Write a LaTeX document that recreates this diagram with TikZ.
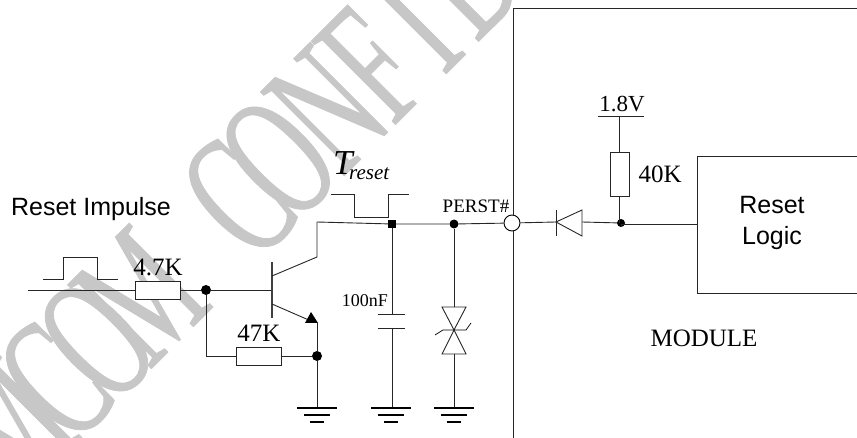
\documentclass[tikz,border=0pt]{standalone}
\usepackage{fontspec}
\setmainfont{Liberation Serif}
\setsansfont{Liberation Sans}
\newfontfamily\wmfont[FakeStretch=0.58,FakeBold=0.4]{Liberation Serif}
\usepackage{tikz}
\usetikzlibrary{positioning}
\newcommand{\fsize}[1]{\fontsize{#1}{#1}\selectfont}
\tikzset{
  wire/.style={line width=0.9pt, black!85},
  resbox/.style={draw, line width=0.9pt, black!85, fill=white, inner sep=0pt, minimum width=45pt, minimum height=18pt},
  junc/.style={circle, fill=black, inner sep=0pt, minimum size=10pt},
  port/.style={circle, draw, line width=0.9pt, fill=white, inner sep=0pt, minimum size=16pt},
  lbl/.style={inner sep=0pt, font=\fsize{25}},
  smalllbl/.style={inner sep=0pt, font=\fsize{18}},
  sanslbl/.style={inner sep=0pt, font=\sffamily\fsize{25}, align=center},
  wmark/.style={inner sep=0pt, text=black!22, rotate=45, anchor=base, font=\wmfont\fsize{181}}
}
\begin{document}
\begin{tikzpicture}[x=1pt, y=-1pt]
    \useasboundingbox (0,0) rectangle (857,438);
    \begin{scope}
      \clip (0,0) rectangle (857,438);
      \foreach \wi/\ltr/\wpos in {b/M/-295, c/C/-231, d/O/-172, e/M/-110, f/C/28, g/O/85, h/N/154, i/F/217, j/I/277, k/D/344} {
        \node [wmark] (wm\wi) at ({260+0.7071*\wpos},{260-0.7071*\wpos}) {\ltr};
      }
    \end{scope}

    \node [sanslbl] (impulse) at (91,209) {Reset Impulse};
    \node [resbox] (r1) at (158,290) {};
    \node [lbl, above=5pt of r1.north, anchor=base] (r1val) {4.7K};
    \node [junc] (j1) at (206,290) {};
    \coordinate (in) at (28,290);
    \coordinate (base) at (272,290);
    \draw [wire] (in) -- (r1);
    \draw [wire] (r1) -- (j1) -- (base);
    \draw [wire] (43,279) -- (63,279) -- (63,257) -- (97,257) -- (97,279) -- (118,279);

    % transistor
    \draw [line width=1.1pt, black!75] (272,262) -- (272,318);
    \coordinate (coll) at (317,222);
    \coordinate (emit) at (317,323);
    \draw [wire] (272,276) -- (317,257) -- (coll);
    \draw [wire] (272,304) -- (311,321);
    \fill (311,312) -- (305,323) -- (318,323) -- cycle;

    \node [resbox] (r2) at (259,356) {};
    \node [lbl, above=5pt of r2.north, anchor=base] (r2val) {47K};
    \node [junc] (j2) at (317,356) {};
    \draw [wire] (j1) |- (r2);
    \draw [wire] (r2) -- (j2);
    \draw [wire] (emit) -- (j2);

    % ground symbols
    \foreach \gx/\gname in {317/ga, 391/gb, 454/gc} {
      \coordinate (\gname) at (\gx,407);
      \draw [line width=1.4pt] (\gx-20,408) -- (\gx+20,408);
      \draw [line width=1.4pt] (\gx-13,415) -- (\gx+13,415);
      \draw [line width=1.4pt] (\gx-7,422) -- (\gx+7,422);
    }
    \draw [wire] (j2) -- (ga);

    \node [junc, rectangle, minimum size=8pt] (j3) at (392,224) {};
    \node [junc, minimum size=9pt] (j4) at (454,224) {};
    \node [port] (perst) at (512,223) {};
    \draw [wire] (coll) -- (j3) -- (j4) -- (perst);

    \node [lbl, font=\itshape\fsize{35}, anchor=base west] (tmain) at (333,175) {T};
    \node [lbl, font=\itshape\fsize{21}, anchor=base west] (tsub) at (349,180) {reset};
    \draw [wire] (331,194) -- (354,194) -- (354,217) -- (388,217) -- (388,194) -- (409,194);
    \node [font=\fsize{19}, inner sep=0pt] (perstlbl) at (476,206) {PERST\#};

    % capacitor
    \coordinate (c1) at (392,314);
    \coordinate (c2) at (392,328);
    \draw [wire] (j3) -- (c1);
    \draw [wire] (378,314) -- (405,314);
    \draw [wire] (378,328) -- (405,328);
    \draw [wire] (c2) -- (392,407);
    \node [smalllbl] (capval) at (365,301) {100nF};

    % tvs
    \coordinate (t1) at (454,307);
    \coordinate (t2) at (454,354);
    \draw [wire] (j4) -- (t1);
    \draw [wire] (442,307) -- (466,307) -- (454,330) -- cycle;
    \draw [wire] (442,354) -- (466,354) -- (454,330) -- cycle;
    \draw [line width=0.7pt] (435,335) -- (443,330) -- (466,330) -- (471,323);
    \draw [wire] (t2) -- (gc);

    % module
    \draw [wire] (857,8) -- (513,8) -- (513,215);
    \draw [wire] (513,231) -- (513,438);
    \node [lbl] (module) at (704,338) {MODULE};
    \draw [wire] (857,156) -- (697,156) -- (697,293) -- (857,293);
    \node [sanslbl] (logic) at (772,223) {Reset\\[6pt]Logic};

    \node [junc, minimum size=8pt] (j5) at (621,223) {};
    \coordinate (dk) at (556,222);
    \coordinate (da) at (582,222);
    \coordinate (lin) at (697,224);
    \draw [wire] (perst) -- (dk);
    \draw [wire] (556,210) -- (556,236);
    \draw [wire] (556,222) -- (582,210) -- (582,236) -- cycle;
    \draw [wire] (da) -- (j5);
    \draw [wire] (j5) |- (lin);

    \node [resbox, minimum width=19pt, minimum height=44pt] (r3) at (619.5,174) {};
    \node [lbl, right=9pt of r3] (r3val) {40K};
    \coordinate (vcc) at (619.5,116);
    \draw [wire] (598,116) -- (644,116);
    \node [lbl, font=\fsize{23}, anchor=base] (vccval) at (622,112) {1.8V};
    \draw [wire] (vcc) -- (r3);
    \draw [wire] (r3) -- (r3.south |- j5);
  \end{tikzpicture}
\end{document}
